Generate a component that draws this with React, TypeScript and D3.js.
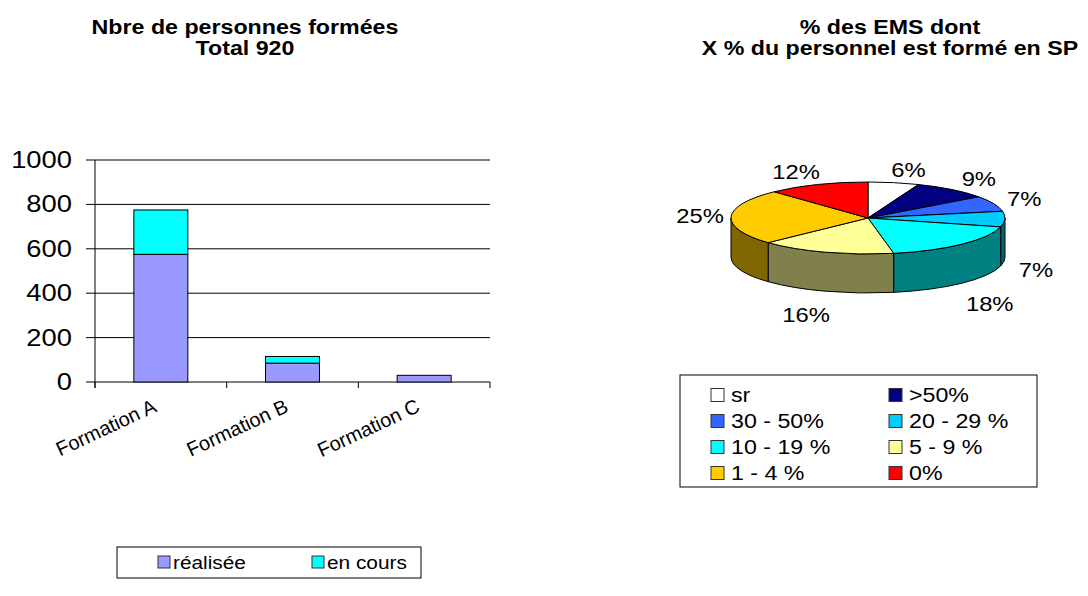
import React from 'react';
import * as d3 from 'd3';

// bar chart data
const categories = ['Formation A', 'Formation B', 'Formation C'];
const realisee = [575, 85, 30];
const enCours = [200, 30, 0];
const yTicks = [0, 200, 400, 600, 800, 1000];
const barSeries = ['réalisée', 'en cours'];
const barColors = ['#9999FF', '#00FFFF'];

// pie chart data
const pieLabels = ['sr', '>50%', '30 - 50%', '20 - 29 %', '10 - 19 %', '5 - 9 %', '1 - 4 %', '0%'];
const pieValues = [6, 9, 7, 7, 18, 16, 25, 12];
const pieColors = ['#FFFFFF', '#000080', '#3366FF', '#00CCFF', '#00FFFF', '#FFFF99', '#FFCC00', '#FF0000'];

const FONT = "Arial, 'Liberation Sans', sans-serif";
const SX = 1.19; // the source picture is stretched horizontally

// text helper: keeps the horizontal stretch of the original
const T = ({ x, y, size, anchor = 'start', bold = false, rotate = 0, sx = SX, children }: any) => (
  <text
    transform={`translate(${x},${y}) scale(${sx},1)${rotate ? ` rotate(${rotate})` : ''}`}
    fontFamily={FONT}
    fontSize={size}
    fontWeight={bold ? 'bold' : 'normal'}
    textAnchor={anchor}
    fill="#000"
  >
    {children}
  </text>
);

const BarChart = () => {
  const x = d3.scaleBand().domain(categories).range([95, 490]).paddingInner(0).paddingOuter(0);
  const y = d3.scaleLinear().domain([0, 1000]).range([382, 160]);
  const barW = x.bandwidth() * 0.41;
  const bounds = [...categories.map(c => x(c) as number), 490];

  return (
    <g>
      <T x={245} y={34} size={19.5} anchor="middle" bold>Nbre de personnes formées</T>
      <T x={245} y={55} size={19.5} anchor="middle" bold>Total 920</T>

      {/* gridlines */}
      {yTicks.map(t => (
        <line key={t} x1={86} x2={490} y1={y(t)} y2={y(t)} stroke="#000" strokeWidth={1} />
      ))}
      {yTicks.map(t => (
        <T key={'l' + t} x={72} y={y(t) + 8} size={23} anchor="end">{t}</T>
      ))}
      <line x1={95} x2={95} y1={160} y2={388} stroke="#000" />
      {bounds.map((b, i) => (
        <line key={i} x1={b} x2={b} y1={382} y2={388} stroke="#000" />
      ))}

      {/* stacked bars */}
      {categories.map((c, i) => {
        const bx = (x(c) as number) + (x.bandwidth() - barW) / 2;
        const total = realisee[i] + enCours[i];
        return (
          <g key={c}>
            <rect x={bx} y={y(realisee[i])} width={barW} height={y(0) - y(realisee[i])}
              fill={barColors[0]} stroke="#000" strokeWidth={1} />
            {enCours[i] > 0 && (
              <rect x={bx} y={y(total)} width={barW} height={y(realisee[i]) - y(total)}
                fill={barColors[1]} stroke="#000" strokeWidth={1} />
            )}
          </g>
        );
      })}

      {categories.map(c => (
        <T key={'x' + c} x={(x(c) as number) + x.bandwidth() / 2 - 3} y={411} size={20} anchor="end" rotate={-25} sx={1}>{c}</T>
      ))}

      {/* legend */}
      <rect x={117} y={547} width={304} height={31} fill="#fff" stroke="#000" />
      {barSeries.map((s, i) => (
        <g key={s}>
          <rect x={158 + i * 154} y={556} width={12} height={12} fill={barColors[i]} stroke="#333" />
          <T x={173 + i * 154} y={568.5} size={17.5}>{s}</T>
        </g>
      ))}
    </g>
  );
};

const PieChart = () => {
  const cx = 868, cy = 218, rx = 137, ry = 36, depth = 39;
  const arcs = d3.pie<number>().sort(null).startAngle(0).endAngle(2 * Math.PI)(pieValues);
  const px = (a: number) => cx + rx * Math.sin(a);
  const py = (a: number) => cy - ry * Math.cos(a);
  const half = (c: string) => {
    const r = d3.rgb(c);
    return d3.rgb(r.r * 0.5, r.g * 0.5, r.b * 0.5).formatHex();
  };

  const topPath = (a0: number, a1: number) =>
    `M${cx},${cy}L${px(a0)},${py(a0)}A${rx},${ry} 0 ${a1 - a0 > Math.PI ? 1 : 0} 1 ${px(a1)},${py(a1)}Z`;

  const sidePath = (a0: number, a1: number) => {
    const s = Math.max(a0, Math.PI / 2);
    const e = Math.min(a1, (3 * Math.PI) / 2);
    if (e <= s) return null;
    return `M${px(s)},${py(s)}A${rx},${ry} 0 0 1 ${px(e)},${py(e)}L${px(e)},${py(e) + depth}` +
      `A${rx},${ry} 0 0 0 ${px(s)},${py(s) + depth}Z`;
  };

  return (
    <g>
      <T x={890} y={34} size={19.5} anchor="middle" bold>% des EMS dont</T>
      <T x={890} y={55} size={19.5} anchor="middle" bold>X % du personnel est formé en SP</T>

      {arcs.map((d, i) => {
        const p = sidePath(d.startAngle, d.endAngle);
        return p ? <path key={'s' + i} d={p} fill={half(pieColors[i])} stroke="#000" strokeWidth={1} /> : null;
      })}
      {arcs.map((d, i) => (
        <path key={'t' + i} d={topPath(d.startAngle, d.endAngle)} fill={pieColors[i]} stroke="#000" strokeWidth={1} />
      ))}

      {/* percent labels */}
      {arcs.map((d, i) => {
        const a = (d.startAngle + d.endAngle) / 2;
        const s = Math.sin(a), c = Math.cos(a);
        const lx = cx + 168 * Math.sign(s) * Math.pow(Math.abs(s), 0.85);
        const ly = cy - 49 * c + (c < 0 ? 50 : 0);
        return <T key={'p' + i} x={lx} y={ly + 7} size={20} anchor="middle">{pieValues[i]}%</T>;
      })}

      {/* legend */}
      <rect x={680} y={375} width={357} height={112} fill="#fff" stroke="#000" />
      {pieLabels.map((l, i) => {
        const col = i % 2, row = Math.floor(i / 2);
        const sx = col === 0 ? 711 : 889;
        const yy = 395 + row * 26;
        return (
          <g key={l}>
            <rect x={sx} y={yy - 6.5} width={13} height={13} fill={pieColors[i]} stroke="#333" />
            <T x={sx + 20} y={yy + 7} size={19.5}>{l}</T>
          </g>
        );
      })}
    </g>
  );
};

const App = () => (
  <svg width={1088} height={596} style={{ position: 'absolute', left: 0, top: 0, background: '#fff' }}>
    <rect width={1088} height={596} fill="#fff" />
    <BarChart />
    <PieChart />
  </svg>
);

export default App;
